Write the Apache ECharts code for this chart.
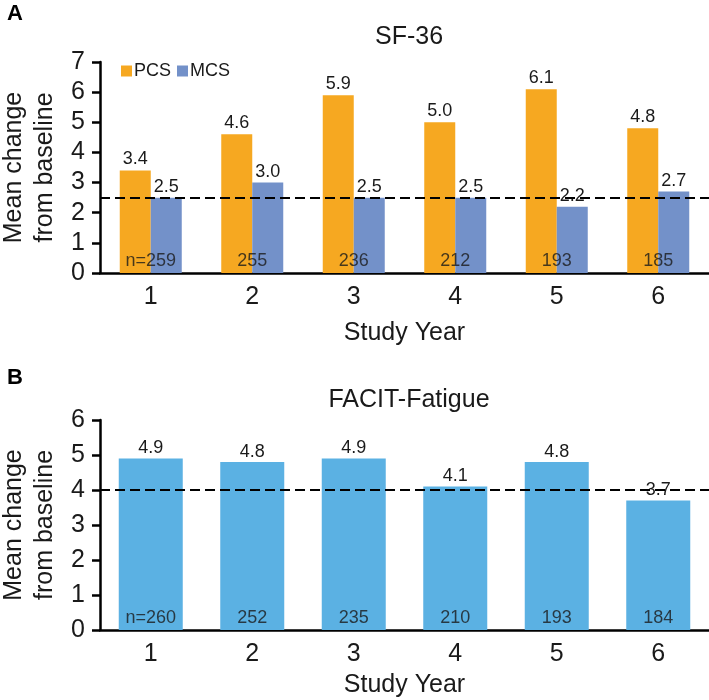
<!DOCTYPE html>
<html><head><meta charset="utf-8">
<script src="https://cdn.jsdelivr.net/npm/echarts@6/dist/echarts.min.js"></script>
<style>html,body{margin:0;padding:0;background:#fff}#c{width:709px;height:700px}</style>
</head><body><div id="c"></div>
<script>
var years = ['1','2','3','4','5','6'];
var pcs = [3.4, 4.6, 5.9, 5.0, 6.1, 4.8];
var mcs = [2.5, 3.0, 2.5, 2.5, 2.2, 2.7];
var nTop = [259, 255, 236, 212, 193, 185];
var refTop = 2.5;
var facit = [4.9, 4.8, 4.9, 4.1, 4.8, 3.7];
var nBottom = [260, 252, 235, 210, 193, 184];
var refBottom = 4.0;
var yTicksTop = {min: 0, max: 7, interval: 1};
var yTicksBottom = {min: 0, max: 6, interval: 1};

var FONT = '"Liberation Sans", Arial, sans-serif';
var TXT = '#1a1a1a';
var chart = echarts.init(document.getElementById('c'));

function xAxis(gi, gap){
  return {type:'category', gridIndex:gi, data:years,
    axisLine:{show:true, lineStyle:{color:'#000', width:2.5}},
    axisTick:{show:false},
    axisLabel:{fontSize:25, color:TXT, margin:12, fontFamily:FONT},
    name:'Study Year', nameLocation:'middle', nameGap:gap,
    nameTextStyle:{fontSize:25, color:TXT, fontFamily:FONT}};
}
function yAxis(gi, t){
  return {type:'value', gridIndex:gi, min:t.min, max:t.max, interval:t.interval,
    axisLine:{show:true, lineStyle:{color:'#000', width:2.5}},
    axisTick:{show:true, length:8, lineStyle:{color:'#000', width:2.5}},
    splitLine:{show:false},
    axisLabel:{fontSize:25, color:TXT, margin:15, fontFamily:FONT},
    name:'Mean change\nfrom baseline', nameLocation:'middle', nameRotate:90, nameGap:37,
    nameTextStyle:{fontSize:25, color:TXT, fontFamily:FONT, lineHeight:31}};
}
function valLabel(d){
  return {show:true, position:'top', distance:d, fontSize:18, color:TXT, fontFamily:FONT,
    formatter:function(p){return p.value.toFixed(1);}};
}
function refLine(v){
  return {symbol:'none', silent:true, label:{show:false},
    lineStyle:{type:[10,5], color:'#000', width:2}, data:[{yAxis:v}]};
}
function nSeries(gi, arr){
  return {type:'scatter', xAxisIndex:gi, yAxisIndex:gi, symbolSize:0, silent:true, z:5,
    data: arr.map(function(n,i){return [i,0];}),
    label:{show:true, position:'top', distance:3, fontSize:18, color:TXT, fontFamily:FONT,
      formatter:function(p){var n=arr[p.dataIndex]; return p.dataIndex===0?('n='+n):String(n);}}};
}

chart.setOption({
  backgroundColor:'#fff',
  animation:false,
  textStyle:{fontFamily:FONT},
  title:[
    {text:'A', left:2, top:-2, textStyle:{fontSize:22, fontWeight:'bold', color:'#000', fontFamily:FONT}},
    {text:'SF-36', left:404, top:20, textAlign:'center', textStyle:{fontSize:25, fontWeight:'normal', color:TXT, fontFamily:FONT}},
    {text:'B', left:2, top:362, textStyle:{fontSize:22, fontWeight:'bold', color:'#000', fontFamily:FONT}},
    {text:'FACIT-Fatigue', left:404, top:383, textAlign:'center', textStyle:{fontSize:25, fontWeight:'normal', color:TXT, fontFamily:FONT}}
  ],
  legend:{left:116, top:57, itemWidth:11, itemHeight:11, itemGap:6, icon:'rect',
    data:['PCS','MCS'], textStyle:{fontSize:18, color:TXT, fontFamily:FONT, padding:[0,0,0,-3]}},
  grid:[
    {left:100, right:0, top:62, height:211, outerBoundsMode:'none', containLabel:false},
    {left:100, right:0, top:420, height:210, outerBoundsMode:'none', containLabel:false}
  ],
  xAxis:[xAxis(0,48), xAxis(1,43)],
  yAxis:[yAxis(0,yTicksTop), yAxis(1,yTicksBottom)],
  series:[
    {name:'PCS', type:'bar', xAxisIndex:0, yAxisIndex:0, data:pcs, barWidth:31, barGap:'0%',
      itemStyle:{color:'#F6A821'}, label:valLabel(2)},
    {name:'MCS', type:'bar', xAxisIndex:0, yAxisIndex:0, data:mcs, barWidth:31, barGap:'0%',
      itemStyle:{color:'#7391C9'}, label:valLabel(2), markLine:refLine(refTop)},
    nSeries(0, nTop),
    {name:'FACIT', type:'bar', xAxisIndex:1, yAxisIndex:1, data:facit, barWidth:64,
      itemStyle:{color:'#5BB1E3'}, label:valLabel(1), markLine:refLine(refBottom)},
    nSeries(1, nBottom)
  ]
});
</script></body></html>
